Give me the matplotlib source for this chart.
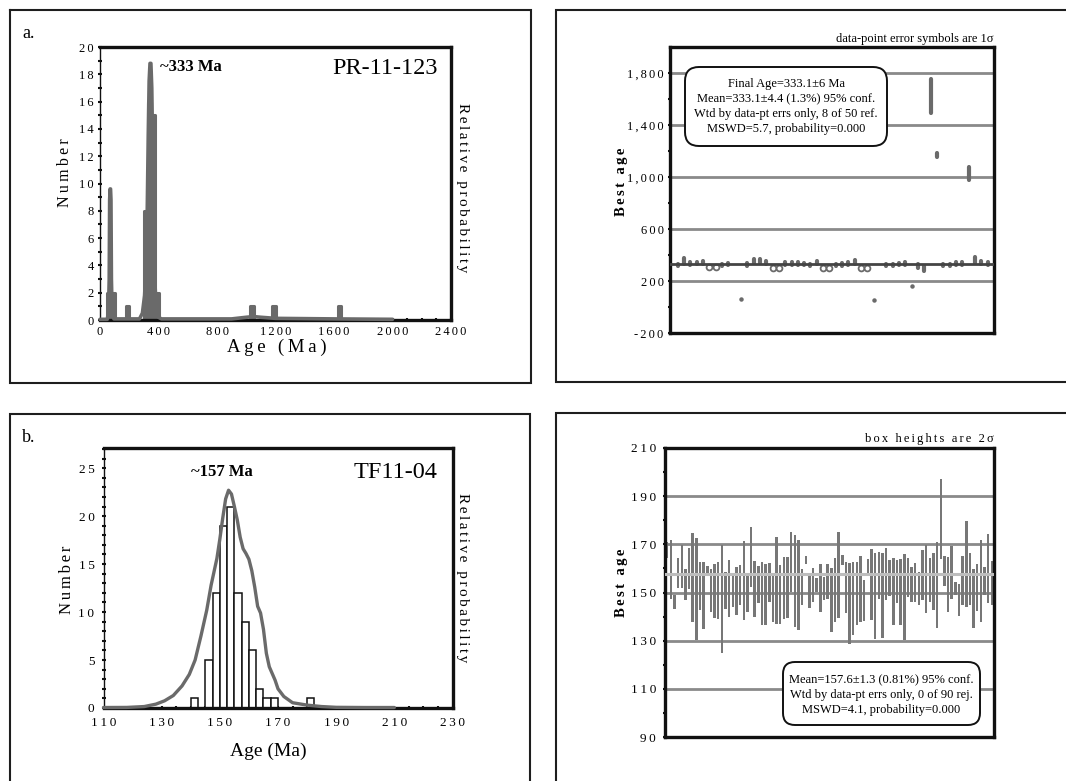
import matplotlib
matplotlib.use("Agg")
import matplotlib.pyplot as plt
from matplotlib.patches import FancyBboxPatch
from matplotlib.ticker import MultipleLocator, FuncFormatter
import numpy as np

plt.rcParams['font.family'] = ['Liberation Serif', 'DejaVu Serif']

W, H = 1066, 781

# ---------------- data: panel a (PR-11-123) ----------------
a_bin_left = [50, 75, 175, 300, 325, 350, 375, 1025, 1175, 1625]
a_counts = [2, 2, 1, 8, 16, 15, 2, 1, 1, 1]
a_bin_width = 25
a_pdp_age = [0, 50, 58, 63, 66, 69, 72, 75, 78, 83, 95, 270, 290, 305, 315, 323,
             330, 336, 342, 348, 354, 360, 366, 374, 385, 400, 420, 900, 1000,
             1050, 1100, 1200, 1600, 2000]
a_pdp_val = [0.05, 0.05, 0.6, 3.0, 8.8, 9.6, 9.6, 8.8, 3.0, 0.6, 0.08, 0.08, 0.5,
             1.8, 4.0, 8.0, 13.5, 17.5, 18.8, 18.8, 17.0, 12.5, 7.5, 3.0, 0.8,
             0.2, 0.08, 0.08, 0.2, 0.25, 0.2, 0.12, 0.08, 0.05]

# ---------------- data: panel a weighted mean ----------------
a_idx = [0, 1, 2, 3, 4, 5, 6, 7, 8, 10, 11, 12, 13, 14, 15, 16, 17, 18, 19, 20,
         21, 22, 23, 24, 25, 26, 27, 28, 29, 30, 31, 33, 34, 35, 36, 37, 38, 39,
         40, 41, 42, 43, 44, 45, 46, 47, 48, 49]
a_age = [322, 352, 336, 338, 341, 310, 310, 323, 330, 62, 328, 356, 356, 343, 302,
         302, 336, 336, 336, 330, 323, 343, 302, 302, 323, 328, 336, 346, 297, 297,
         54, 323, 323, 330, 336, 164, 318, 297, 1623, 1168, 323, 323, 336, 336,
         1027, 361, 341, 336]
a_err = [10, 22, 10, 10, 10, 8, 8, 10, 10, 3, 10, 15, 15, 10, 8,
         8, 10, 10, 10, 10, 10, 10, 8, 8, 10, 10, 10, 18, 8, 8,
         3, 10, 10, 10, 10, 3, 15, 18, 128, 15, 10, 10, 10, 10,
         51, 20, 10, 10]
a_rejected = [5, 6, 15, 16, 23, 24, 29, 30]
a_tiny = [10, 31, 37]
a_mean = 333.1
a_grid = [200, 600, 1000, 1400, 1800]
a_yticks = [-200, 200, 600, 1000, 1400, 1800]
a_yminor = [0, 400, 800, 1200, 1600]

# ---------------- data: panel b (TF11-04) ----------------
b_bin_left = [140, 145, 147.5, 150, 152.5, 155, 157.5, 160, 162.5, 165, 167.5, 180]
b_counts = [1, 5, 12, 19, 21, 12, 9, 6, 2, 1, 1, 1]
b_bin_width = 2.5
b_xticks = [110, 130, 150, 170, 190, 210, 230]
b_pdp_age = [110, 118, 124, 128, 131, 134, 137, 139.5, 141.5, 143.5, 145.5, 147, 148,
             149, 150, 151, 152, 153, 154, 155, 156, 157, 158, 159, 160, 161, 162,
             163, 164, 165, 166, 167, 168, 169, 170, 172, 175, 180, 185, 190, 200, 210]
b_pdp_val = [0.05, 0.06, 0.15, 0.4, 0.75, 1.3, 2.3, 3.5, 5.0, 7.5, 10.2, 12.8, 14.2,
             15.6, 17.6, 19.8, 21.8, 22.7, 22.3, 21.0, 19.6, 17.8, 16.6, 16.1, 15.5,
             14.3, 12.6, 10.6, 9.9, 8.2, 5.7, 4.3, 3.6, 2.9, 2.0, 1.2, 0.55, 0.3,
             0.15, 0.07, 0.05, 0.05]

b_top = [171.0, 171.7, 148.9, 164.2, 169.8, 159.6, 168.6, 174.6, 172.8, 162.8,
         162.5, 161.0, 159.8, 162.0, 162.8, 169.8, 158.6, 163.5, 157.3, 160.7,
         161.4, 171.4, 156.8, 177.0, 163.1, 161.0, 162.8, 161.7, 162.1, 157.3,
         173.2, 161.4, 164.9, 164.9, 175.3, 173.9, 171.8, 159.8, 165.3, 157.3,
         160.3, 156.1, 161.7, 156.5, 161.7, 160.3, 164.2, 175.0, 165.6, 162.8,
         162.4, 162.5, 162.8, 165.3, 155.2, 163.9, 168.1, 166.3, 167.0, 166.3,
         168.6, 163.5, 164.2, 163.4, 163.9, 165.9, 164.2, 160.7, 162.1, 158.4,
         167.7, 169.8, 164.2, 166.3, 171.1, 197.2, 165.3, 164.9, 169.3, 154.5,
         153.4, 165.3, 179.7, 166.3, 159.8, 161.7, 171.8, 160.7, 174.2, 163.1]
b_bottom = [164.2, 147.5, 143.1, 151.7, 151.7, 146.9, 151.4, 137.8, 130.2, 142.7,
            135.0, 156.8, 142.0, 139.5, 138.8, 124.9, 143.3, 139.9, 144.1, 140.6,
            144.8, 138.6, 142.0, 152.4, 139.9, 145.5, 136.5, 136.7, 146.1, 137.8,
            137.1, 136.9, 139.2, 139.5, 150.3, 135.8, 134.4, 144.8, 161.7, 143.4,
            146.2, 150.3, 142.0, 146.9, 147.5, 133.7, 137.8, 139.5, 161.4, 141.3,
            128.8, 132.3, 136.5, 137.8, 138.1, 157.9, 138.6, 130.6, 147.5, 130.9,
            146.9, 148.7, 136.5, 145.5, 136.5, 130.2, 148.2, 146.2, 146.2, 144.8,
            146.9, 141.3, 145.9, 142.7, 135.1, 163.9, 152.8, 142.0, 147.5, 148.9,
            140.3, 144.8, 144.1, 144.8, 135.1, 142.3, 137.6, 148.9, 145.5, 144.8]
b_mean = 157.6
b_grid = [110, 130, 150, 170, 190]
b_yticks = [90, 110, 130, 150, 170, 190, 210]
b_yminor = [100, 120, 140, 160, 180, 200]

GRAY = '#6a6a6a'
GRID = '#8a8a8a'
SS = '\u2006'
TS = '\u2009'


def sp(s, ch=TS):
    return ch.join(s)


def rect(l, t, r, b):
    return [l / W, 1 - b / H, (r - l) / W, (b - t) / H]


def fx(x):
    return x / W


def fy(y):
    return 1 - y / H


fig = plt.figure(figsize=(W / 100, H / 100), dpi=100)


def frame(pts):
    xs = [fx(p[0]) for p in pts]
    ys = [fy(p[1]) for p in pts]
    fig.add_artist(plt.Line2D(xs, ys, color='#1e1e1e', lw=1.5,
                              transform=fig.transFigure, solid_joinstyle='miter'))


frame([(10, 10), (531, 10), (531, 383), (10, 383), (10, 10)])
frame([(1080, 10), (556, 10), (556, 382), (1080, 382)])
frame([(10, 800), (10, 414), (530, 414), (530, 800)])
frame([(556, 800), (556, 413), (1080, 413)])


def style_spines(ax, left_lw):
    for k in ['top', 'right', 'bottom']:
        ax.spines[k].set_linewidth(2.4)
        ax.spines[k].set_color('#111111')
    ax.spines['left'].set_linewidth(left_lw)
    ax.spines['left'].set_color('#111111')


def txt(x, y, s, **kw):
    kw.setdefault('ha', 'center')
    kw.setdefault('va', 'center')
    fig.text(fx(x), fy(y), s, **kw)


# ================= Panel a: histogram =================
ax1 = fig.add_axes(rect(100, 47, 451, 320))
ax1.bar(a_bin_left, a_counts, width=a_bin_width, align='edge', color=GRAY,
        edgecolor=GRAY, linewidth=2.2, joinstyle='round', zorder=2)
ax1.plot(a_pdp_age, a_pdp_val, color=GRAY, lw=2.6, solid_joinstyle='round',
         solid_capstyle='round', zorder=3, clip_on=False)
ax1.set_xlim(0, 2400)
ax1.set_ylim(0, 20)
style_spines(ax1, 1.0)
ax1.xaxis.set_major_locator(MultipleLocator(400))
ax1.xaxis.set_minor_locator(MultipleLocator(100))
ax1.yaxis.set_major_locator(MultipleLocator(2))
ax1.yaxis.set_minor_locator(MultipleLocator(1))
ax1.tick_params(which='both', direction='inout', length=3, width=1.5, color='#111111',
                labelsize=9, top=False, right=False)
ax1.tick_params(axis='x', pad=3)
ax1.tick_params(axis='y', pad=3)
ax1.xaxis.set_major_formatter(FuncFormatter(lambda v, p: sp('%d' % v, SS)))
ax1.yaxis.set_major_formatter(FuncFormatter(lambda v, p: sp('%d' % v, SS)))

txt(22, 33, 'a.', ha='left', fontsize=13)
txt(160, 67, '~333 Ma', ha='left', fontsize=12, fontweight='bold')
txt(438, 68, 'PR-11-123', ha='right', fontsize=17.5)
txt(65, 173, sp('Number'), fontsize=11.5, rotation=90)
txt(463, 188, sp('Relative probability', SS), fontsize=11, rotation=-90)
txt(277, 347, sp('Age (Ma)'), fontsize=13.5)

# ================= Panel a: weighted mean =================
ax2 = fig.add_axes(rect(670, 47, 994, 333))
for g in a_grid:
    ax2.axhline(g, color=GRID, lw=2.0, zorder=1)
rej = set(a_rejected)
tiny = set(a_tiny)
for i, v, e in zip(a_idx, a_age, a_err):
    if i in rej:
        ax2.plot([i], [v], marker='o', ms=4.2, mfc='white', mec=GRAY, mew=1.3,
                 ls='none', zorder=3)
    elif i in tiny:
        ax2.plot([i], [v], marker='o', ms=2.2, color=GRAY, ls='none', zorder=3)
    else:
        ax2.vlines(i, v - e, v + e, color=GRAY, lw=3.0, capstyle='round', zorder=3)
ax2.axhline(a_mean, color='#444444', lw=2.0, zorder=4)
ax2.set_xlim(-1.2, 50.0)
ax2.set_ylim(-200, 2000)
style_spines(ax2, 2.4)
ax2.set_xticks([])
ax2.set_yticks(a_yticks)
ax2.set_yticks(a_yminor, minor=True)
ax2.yaxis.set_major_formatter(FuncFormatter(lambda v, p: sp('{:,}'.format(int(v)), SS)))
ax2.tick_params(which='both', direction='inout', length=3, width=1.5, color='#111111',
                labelsize=9, pad=3)

txt(994, 39, 'data-point error symbols are 1\u03c3', ha='right', fontsize=9)
txt(622, 182, sp('Best age', SS), fontsize=10.5, fontweight='bold', rotation=90)

box1 = FancyBboxPatch((6.85, (H - 146) / 100), 2.02, 0.79,
                      boxstyle='round,pad=0,rounding_size=0.14',
                      transform=fig.dpi_scale_trans, fc='white', ec='#111111',
                      lw=1.4, zorder=5)
fig.add_artist(box1)
box1_lines = ['Final Age=333.1\u00b16 Ma', 'Mean=333.1\u00b14.4 (1.3%) 95% conf.',
              'Wtd by data-pt errs only, 8 of 50 ref.', 'MSWD=5.7, probability=0.000']
for k, s in enumerate(box1_lines):
    txt(786, 84 + 15 * k, s, fontsize=9, zorder=6)

# ================= Panel b: histogram =================
ax3 = fig.add_axes(rect(103.5, 448, 452.5, 708))
ax3.bar(b_bin_left, b_counts, width=b_bin_width, align='edge', color='white',
        edgecolor='#111111', linewidth=1.1, zorder=2)
ax3.plot(b_pdp_age, b_pdp_val, color=GRAY, lw=2.4, solid_joinstyle='round',
         solid_capstyle='round', zorder=3, clip_on=False)
ax3.set_xlim(110, 230)
ax3.set_ylim(0, 27.1)
style_spines(ax3, 1.0)
ax3.set_xticks(b_xticks)
ax3.xaxis.set_minor_locator(MultipleLocator(5))
ax3.yaxis.set_major_locator(MultipleLocator(5))
ax3.yaxis.set_minor_locator(MultipleLocator(1))
ax3.tick_params(which='both', direction='inout', length=3, width=1.5, color='#111111',
                labelsize=9.5, top=False, right=False)
ax3.tick_params(axis='x', pad=5)
ax3.tick_params(axis='y', pad=5)
ax3.xaxis.set_major_formatter(FuncFormatter(lambda v, p: sp('%d' % v)))
ax3.yaxis.set_major_formatter(FuncFormatter(lambda v, p: sp('%d' % v)))

txt(22, 438, 'b.', ha='left', fontsize=13)
txt(222, 472, '~157 Ma', fontsize=12, fontweight='bold')
txt(437, 472, 'TF11-04', ha='right', fontsize=17.5)
txt(67, 580, sp('Number', SS), fontsize=12, rotation=90)
txt(463, 578, sp('Relative probability', SS), fontsize=11, rotation=-90)
txt(268, 751, 'Age (Ma)', fontsize=14)

# ================= Panel b: weighted mean =================
ax4 = fig.add_axes(rect(665, 448, 994, 737))
xb = np.arange(1, len(b_top) + 1)
heights = [t - b for t, b in zip(b_top, b_bottom)]
ax4.bar(xb, heights, bottom=b_bottom, width=0.68, color='#777777', zorder=2)
for g in b_grid:
    ax4.axhline(g, color=GRID, lw=2.0, zorder=1)
ax4.axhline(b_mean, color='#bdbdbd', lw=2.2, zorder=3)
ax4.set_xlim(0.4, 90.6)
ax4.set_ylim(90, 210)
style_spines(ax4, 2.4)
ax4.set_xticks([])
ax4.set_yticks(b_yticks)
ax4.set_yticks(b_yminor, minor=True)
ax4.yaxis.set_major_formatter(FuncFormatter(lambda v, p: sp('%d' % v)))
ax4.tick_params(which='both', direction='inout', length=3, width=1.5, color='#111111',
                labelsize=9.5, pad=5)

txt(994, 439, sp('box heights are 2\u03c3', SS), ha='right', fontsize=9)
txt(621, 583, sp('Best age', SS), fontsize=10.5, fontweight='bold', rotation=90)

box2 = FancyBboxPatch((7.83, (H - 725) / 100), 1.97, 0.63,
                      boxstyle='round,pad=0,rounding_size=0.12',
                      transform=fig.dpi_scale_trans, fc='white', ec='#111111',
                      lw=1.4, zorder=5)
fig.add_artist(box2)
box2_lines = ['Mean=157.6\u00b11.3 (0.81%) 95% conf.',
              'Wtd by data-pt errs only, 0 of 90 rej.', 'MSWD=4.1, probability=0.000']
for k, s in enumerate(box2_lines):
    txt(881, 680 + 15 * k, s, fontsize=9, zorder=6)

fig.savefig('out.png', dpi=100)
